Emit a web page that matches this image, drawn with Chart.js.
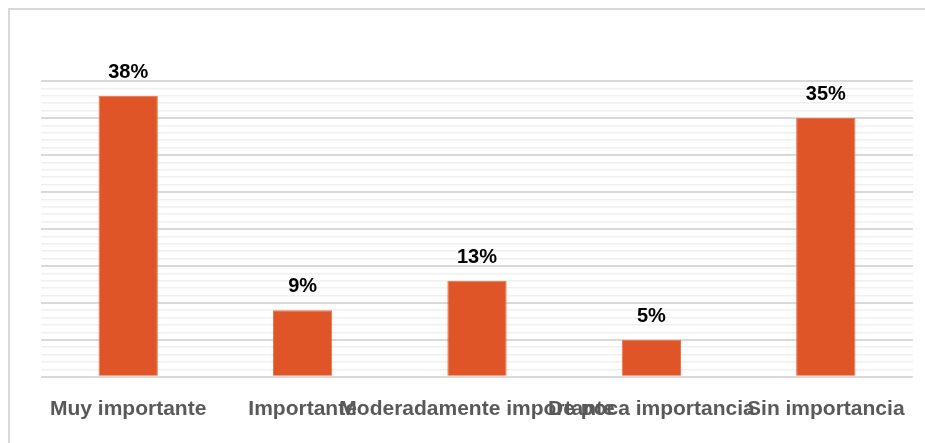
<!DOCTYPE html>
<html>
<head>
<meta charset="utf-8">
<script src="https://cdn.jsdelivr.net/npm/chart.js@4.4.0/dist/chart.umd.min.js"></script>
<style>
html,body{margin:0;padding:0;background:#fff;}
#wrap{width:925px;height:443px;position:relative;}
</style>
</head>
<body>
<div id="wrap"><canvas id="c" width="925" height="443"></canvas></div>
<script>
const categories = ["Muy importante", "Importante", "Moderadamente importante", "De poca importancia", "Sin importancia"];
const values = [38, 9, 13, 5, 35];
const yMax = 40;
const yStep = 1;

const frame = {
  id: 'frame',
  beforeDraw(chart) {
    const ctx = chart.ctx;
    ctx.save();
    ctx.strokeStyle = '#d9d9d9';
    ctx.lineWidth = 2;
    ctx.beginPath();
    ctx.moveTo(9, 443);
    ctx.lineTo(9, 9);
    ctx.lineTo(925, 9);
    ctx.stroke();
    ctx.restore();
  }
};

const dataLabels = {
  id: 'dataLabels',
  afterDatasetsDraw(chart) {
    const ctx = chart.ctx;
    const meta = chart.getDatasetMeta(0);
    ctx.save();
    ctx.font = 'bold 20px "Liberation Sans", Arial, sans-serif';
    ctx.fillStyle = '#000';
    ctx.textAlign = 'center';
    ctx.textBaseline = 'alphabetic';
    meta.data.forEach((bar, i) => {
      ctx.fillText(values[i] + '%', bar.x, bar.y - 18);
    });
    ctx.restore();
  }
};

new Chart(document.getElementById('c'), {
  type: 'bar',
  data: {
    labels: categories,
    datasets: [{
      data: values,
      backgroundColor: '#E05527',
      borderColor: '#E8704B',
      borderWidth: 1,
      categoryPercentage: 1,
      barPercentage: 0.34
    }]
  },
  options: {
    responsive: false,
    animation: false,
    devicePixelRatio: 1,
    layout: { padding: { left: 41, right: 12, top: 81, bottom: 9 } },
    plugins: { legend: { display: false }, tooltip: { enabled: false } },
    scales: {
      x: {
        grid: { display: false },
        border: { display: false },
        ticks: {
          autoSkip: false,
          maxRotation: 0,
          minRotation: 0,
          padding: 12,
          color: '#595959',
          font: { family: '"Liberation Sans", Arial, sans-serif', size: 21, weight: 'bold' }
        }
      },
      y: {
        min: 0,
        max: yMax,
        ticks: { display: false, stepSize: yStep },
        border: { display: false },
        grid: {
          drawTicks: false,
          color: (c) => (c.tick && c.tick.value % 5 === 0) ? '#d9d9d9' : '#f0f0f0',
          lineWidth: (c) => (c.tick && c.tick.value % 5 === 0) ? 2 : 1.5
        }
      }
    }
  },
  plugins: [frame, dataLabels]
});
</script>
</body>
</html>
